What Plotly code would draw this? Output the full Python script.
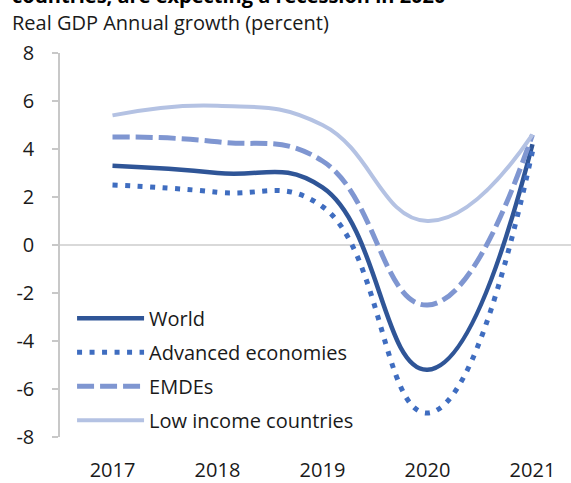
import plotly.graph_objects as go

years = [2017, 2018, 2019, 2020, 2021]
world = [3.3, 3.0, 2.4, -5.2, 4.2]
advanced = [2.5, 2.2, 1.6, -7.0, 3.9]
emdes = [4.5, 4.3, 3.5, -2.5, 4.6]
lic = [5.4, 5.8, 5.0, 1.0, 4.6]
ytick_vals = [-8, -6, -4, -2, 0, 2, 4, 6, 8]
ytick_text = ["-8", "-6", "-4", "-2", "0", "2", "4", "6", "8"]

series = [
    ("World", world, "#2F5597", 4.5, "solid"),
    ("Advanced economies", advanced, "#3F6DC0", 5, "5px,7.5px"),
    ("EMDEs", emdes, "#7F96D1", 5, "17px,6px"),
    ("Low income countries", lic, "#B4C2E3", 4, "solid"),
]

fig = go.Figure()
for i, (name, vals, color, w, dash) in enumerate(series):
    fig.add_trace(go.Scatter(
        x=years, y=vals, name=name, mode="lines",
        line=dict(color=color, width=w, dash=dash, shape="spline", smoothing=1.3),
        legendgroup=f"g{i}",
    ))

fig.update_layout(
    width=571, height=483,
    margin=dict(l=60, r=0, t=53, b=46),
    paper_bgcolor="white", plot_bgcolor="white",
    font=dict(family="Open Sans", size=20, color="#1a1a1a"),
    showlegend=True,
    legend=dict(x=0.0236, y=0.360, xanchor="left", yanchor="top",
                bgcolor="rgba(0,0,0,0)", font=dict(size=20, color="#1a1a1a"),
                itemwidth=67, tracegroupgap=5, traceorder="grouped"),
    xaxis=dict(range=[2016.5, 2021.367], tickvals=years, ticktext=[str(y) for y in years],
               showgrid=False, zeroline=False, showline=False, ticks="",
               ticklabelstandoff=19, automargin=False,
               tickfont=dict(size=20)),
    yaxis=dict(range=[-8, 8], tickvals=ytick_vals, ticktext=ytick_text,
               showgrid=False, zeroline=True,
               zerolinecolor="#D9D9D9", zerolinewidth=1.5,
               showline=True, linecolor="#C8C8C8", linewidth=1.5,
               ticks="outside", ticklen=6, tickcolor="#C8C8C8", tickwidth=1.5,
               ticklabelstandoff=14, automargin=False,
               tickfont=dict(size=20)),
)

fig.add_annotation(text="<b>countries, are expecting a recession in 2020</b>",
                   xref="paper", yref="paper", x=0, y=1, xanchor="left", yanchor="middle",
                   xshift=-50, yshift=58, showarrow=False,
                   font=dict(size=20, color="#000000", family="Open Sans"))
fig.add_annotation(text="Real GDP Annual growth (percent)",
                   xref="paper", yref="paper", x=0, y=1, xanchor="left", yanchor="middle",
                   xshift=-50, yshift=31, showarrow=False,
                   font=dict(size=20, color="#1a1a1a", family="Open Sans"))

fig.write_html("out.html", config={"displayModeBar": False},
               post_script="document.body.style.margin='0';document.body.style.overflow='hidden';")
